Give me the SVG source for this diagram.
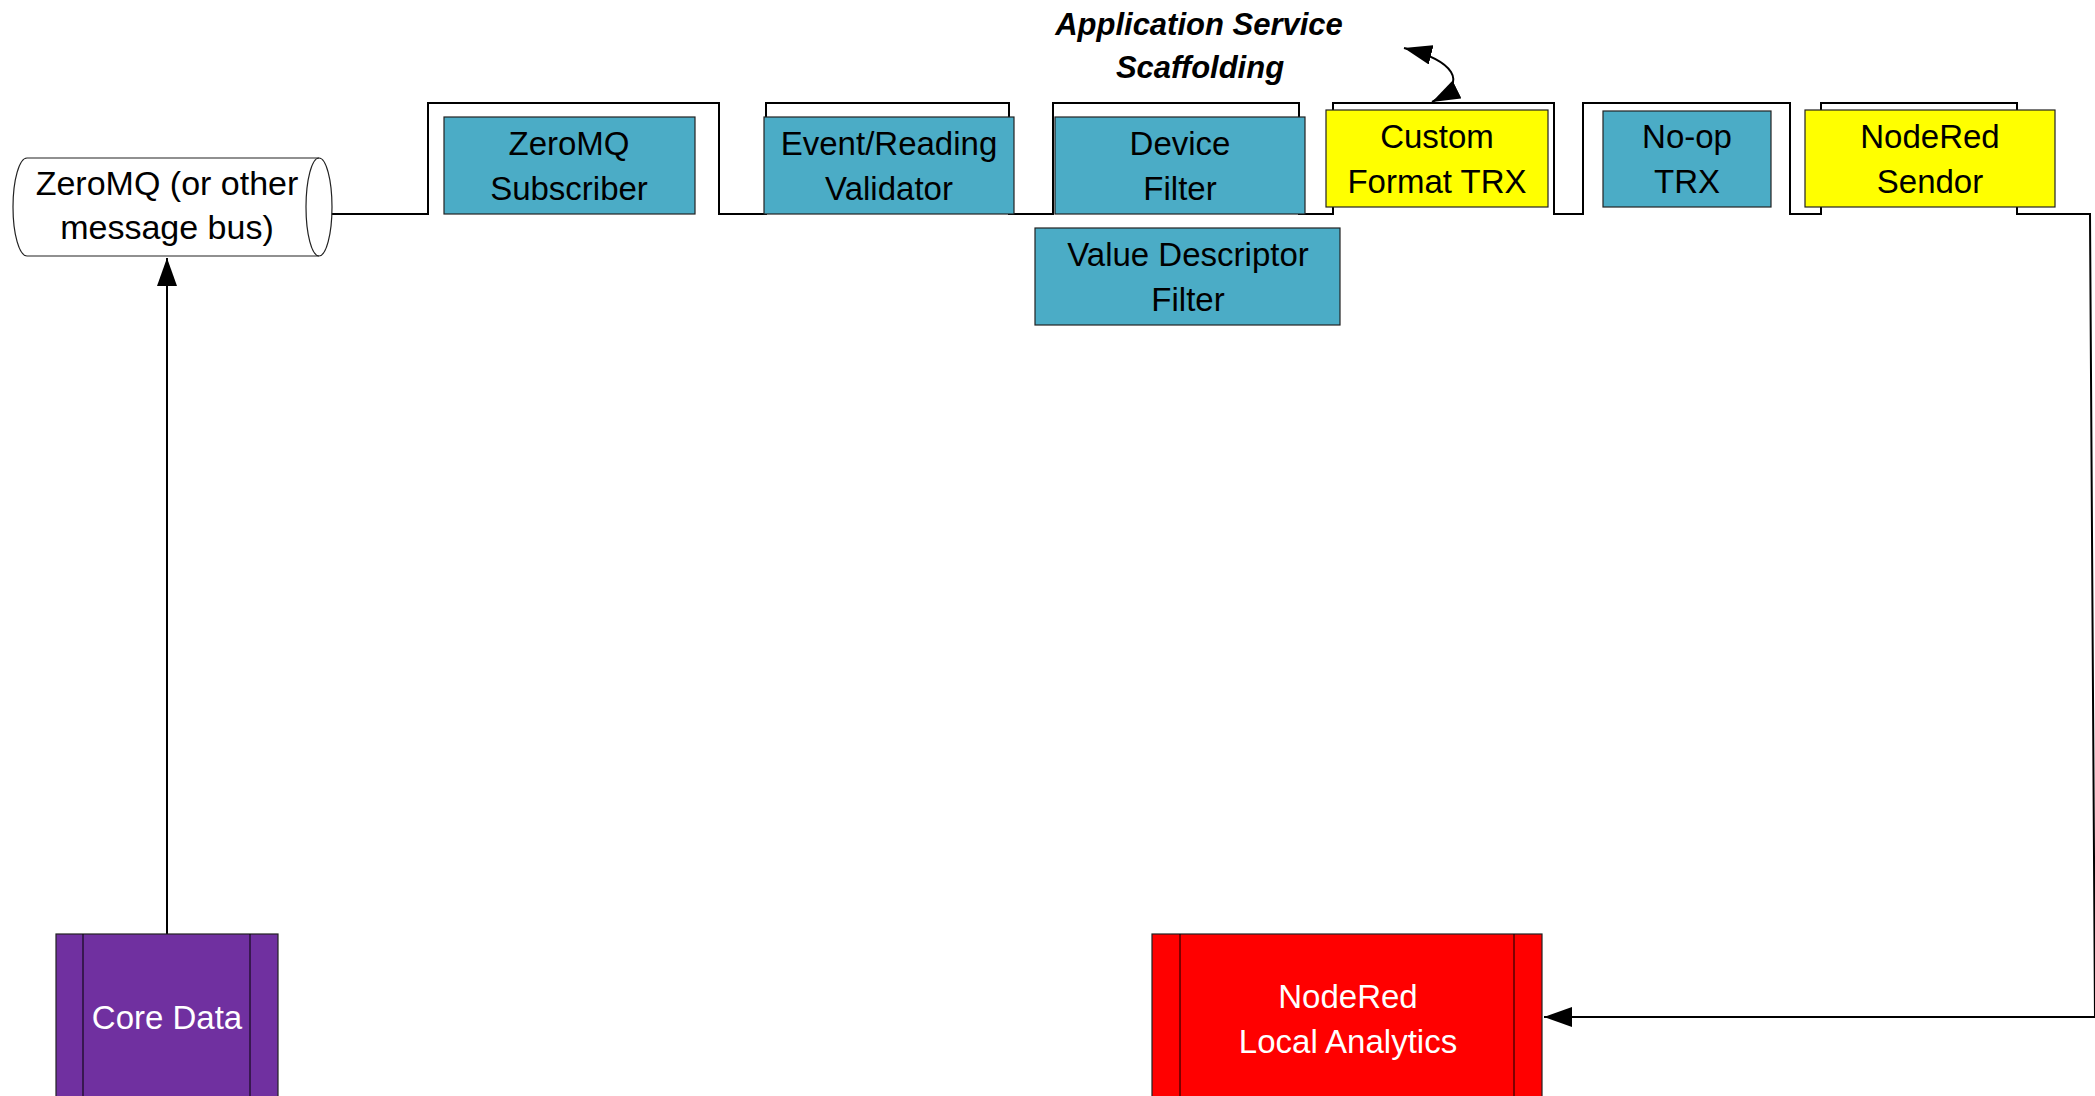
<svg xmlns="http://www.w3.org/2000/svg" width="2095" height="1096" viewBox="0 0 2095 1096">
<style>
.t{font-family:"Liberation Sans",Arial,sans-serif;font-size:33px;fill:#000;text-anchor:middle}
.w{fill:#fff}
.big{font-size:34px}
.title{font-family:"Liberation Sans",Arial,sans-serif;font-size:31px;font-weight:bold;font-style:italic;text-anchor:middle;fill:#000}
.blue{fill:#4BACC6;stroke:#222;stroke-width:1.2}
.yel{fill:#FFFF00;stroke:#222;stroke-width:1.2}
.conn{fill:none;stroke:#000;stroke-width:2}
.thin{fill:none;stroke:#000;stroke-width:1}
</style>
<defs>
<marker id="arr" viewBox="0 0 28 20" refX="28" refY="10" markerWidth="28" markerHeight="20" markerUnits="userSpaceOnUse" orient="auto-start-reverse">
<path d="M0,0 L28,10 L0,20 z" fill="#000"/>
</marker>
</defs>
<rect width="2095" height="1096" fill="#fff"/>

<g id="connectors">
<path class="conn" d="M318,214 H428 V103 H719 V214 H766 V103 H1009 V214 H1053 V103 H1299 V214 H1333 V103 H1554 V214 H1583 V103 H1790 V214 H1821 V103 H2017 V214 H2090 L2095,1017 H1544" marker-end="url(#arr)"/>
<path class="conn" d="M167,934 V258" marker-end="url(#arr)"/>
<path class="conn" d="M1404,48 C1452,60 1472,82 1432,102" marker-start="url(#arr)" marker-end="url(#arr)"/>
</g>

<g id="title">
<text class="title" x="1199" y="35">Application Service</text>
<text class="title" x="1200" y="78">Scaffolding</text>
</g>

<g id="message-bus">
<path d="M27,158 H319 A13,49 0 0 1 319,256 H27 A14,49 0 0 1 27,158 Z" fill="#fff" stroke="#222" stroke-width="1.2"/>
<path d="M319,158 A13,49 0 0 0 319,256" fill="none" stroke="#222" stroke-width="1.2"/>
<text class="t big" x="167" y="195">ZeroMQ (or other</text>
<text class="t big" x="167" y="239">message bus)</text>
</g>

<g id="zeromq-subscriber">
<rect class="blue" x="444" y="117" width="251" height="97"/>
<text class="t" x="569" y="155">ZeroMQ</text>
<text class="t" x="569" y="200">Subscriber</text>
</g>

<g id="event-reading-validator">
<rect class="blue" x="764" y="117" width="250" height="97"/>
<text class="t" x="889" y="155">Event/Reading</text>
<text class="t" x="889" y="200">Validator</text>
</g>

<g id="device-filter">
<rect class="blue" x="1055" y="117" width="250" height="97"/>
<text class="t" x="1180" y="155">Device</text>
<text class="t" x="1180" y="200">Filter</text>
</g>

<g id="value-descriptor-filter">
<rect class="blue" x="1035" y="228" width="305" height="97"/>
<text class="t" x="1188" y="266">Value Descriptor</text>
<text class="t" x="1188" y="311">Filter</text>
</g>

<g id="custom-format-trx">
<rect class="yel" x="1326" y="110" width="222" height="97"/>
<text class="t" x="1437" y="148">Custom</text>
<text class="t" x="1437" y="193">Format TRX</text>
</g>

<g id="no-op-trx">
<rect class="blue" x="1603" y="111" width="168" height="96"/>
<text class="t" x="1687" y="148">No-op</text>
<text class="t" x="1687" y="193">TRX</text>
</g>

<g id="nodered-sendor">
<rect class="yel" x="1805" y="110" width="250" height="97"/>
<text class="t" x="1930" y="148">NodeRed</text>
<text class="t" x="1930" y="193">Sendor</text>
</g>

<g id="core-data">
<rect x="56" y="934" width="222" height="200" fill="#7030A0" stroke="#222" stroke-width="1.2"/>
<line class="thin" x1="83" y1="934" x2="83" y2="1134"/>
<line class="thin" x1="250" y1="934" x2="250" y2="1134"/>
<text class="t w" x="167" y="1029">Core Data</text>
</g>

<g id="nodered-local-analytics">
<rect x="1152" y="934" width="390" height="200" fill="#FF0000" stroke="#222" stroke-width="1.2"/>
<line class="thin" x1="1180" y1="934" x2="1180" y2="1134"/>
<line class="thin" x1="1514" y1="934" x2="1514" y2="1134"/>
<text class="t w" x="1348" y="1008">NodeRed</text>
<text class="t w" x="1348" y="1053">Local Analytics</text>
</g>
</svg>
